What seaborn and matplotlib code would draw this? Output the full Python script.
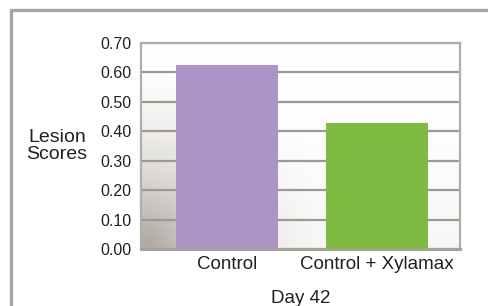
import numpy as np
import pandas as pd
import matplotlib
matplotlib.use("Agg")
import matplotlib.pyplot as plt
import seaborn as sns
from matplotlib.patches import Rectangle

categories = ["Control", "Control + Xylamax"]
scores = [0.625, 0.428]
bar_colors = ["#ae94c6", "#7fbb42"]
yticks = [0.0, 0.1, 0.2, 0.3, 0.4, 0.5, 0.6, 0.7]
ytick_labels = ["0.00", "0.10", "0.20", "0.30", "0.40", "0.50", "0.60", "0.70"]
xlabel = "Day 42"
ylabel = "Lesion\nScores"

sns.set_theme(style="white")
plt.rcParams['font.family'] = ['Liberation Sans Narrow', 'Liberation Sans', 'DejaVu Sans']
text_color = "#231f20"

fig = plt.figure(figsize=(4.89, 3.06), dpi=100)
ax = fig.add_axes([141/489, 57/306, 319/489, 206/306])

df = pd.DataFrame({"cat": categories, "score": scores})
sns.barplot(data=df, x="cat", y="score", hue="cat", palette=bar_colors,
            width=0.68, saturation=1, legend=False, ax=ax, zorder=3,
            linewidth=0, edgecolor="none")

xl = (-0.573, 1.553)
yl = (0.0, 0.7)
ax.set_xlim(*xl)
ax.set_ylim(*yl)

# background gradient, dark in the bottom-left corner
nx, ny = 300, 200
gx = np.linspace(0, 1, nx)
gy = np.linspace(0, 1, ny)
X, Y = np.meshgrid(gx, gy)
d = np.sqrt((X * 1.6) ** 2 + (Y * 1.0) ** 2)
t = np.clip(1 - d / 1.0, 0, 1) ** 1.9
t2 = np.clip(1 - Y / 1.0, 0, 1) ** 2 * 0.10
t = np.clip(t + t2, 0, 1)
dark = np.array([178, 171, 164]) / 255.0
white = np.array([1.0, 1.0, 1.0])
img = white[None, None, :] * (1 - t[..., None]) + dark[None, None, :] * t[..., None]
ax.imshow(img, extent=(xl[0], xl[1], yl[0], yl[1]), origin="lower",
          aspect="auto", zorder=0, interpolation="bilinear")

ax.set_yticks(yticks)
ax.set_yticklabels(ytick_labels)
ax.yaxis.grid(True, color="#9f9891", linewidth=1.6, zorder=1)
ax.set_axisbelow(True)
for s in ax.spines.values():
    s.set_visible(True)
    s.set_color("#b3ada7")
    s.set_linewidth(1.6)
ax.spines["bottom"].set_color("#a8a29b")
ax.spines["bottom"].set_linewidth(2.2)

ax.tick_params(axis="y", length=0, pad=7, labelsize=11.5, labelcolor=text_color)
ax.tick_params(axis="x", length=0, pad=5, labelsize=13.5, labelcolor=text_color)
ax.set_xlabel(xlabel, fontsize=13.5, color=text_color, labelpad=12)
ax.set_ylabel("")
fig.text(57/489, 1 - 146/306, ylabel, ha="center", va="center",
         fontsize=14, color=text_color, linespacing=1.0)

# outer frame
fig.patches.append(Rectangle((11.5/489, -0.2), 1.2, 1 - 10.5/306 + 0.2,
                             transform=fig.transFigure, fill=False,
                             edgecolor="#aaa49d", linewidth=2.4, zorder=10))

fig.savefig("out.png", dpi=100, facecolor="white")
